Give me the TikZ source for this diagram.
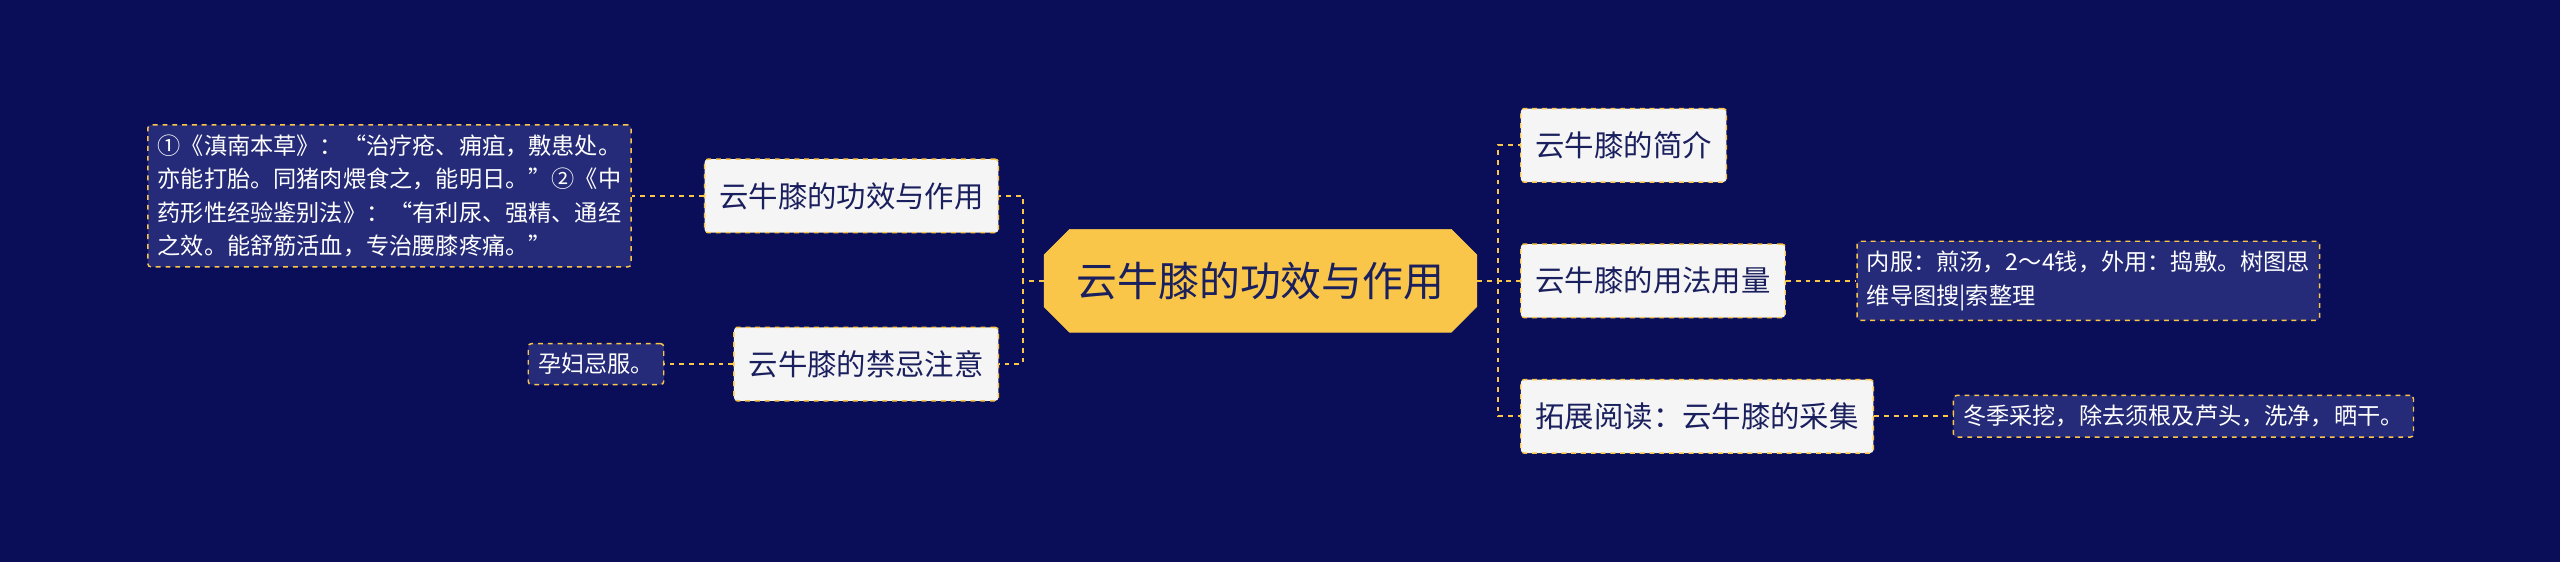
\documentclass[tikz,border=0pt]{standalone}
\usepackage{fontspec}
\setmainfont{Noto Sans CJK SC}
\usetikzlibrary{shapes.misc,shapes.geometric}
\definecolor{bg}{HTML}{0A0E58}
\definecolor{gold}{HTML}{F9C64A}
\definecolor{leaf}{HTML}{252B78}
\definecolor{boxc}{HTML}{F5F5F5}
\definecolor{ink}{HTML}{1A1F5E}
\tikzset{
 conn/.style={draw=gold,dashed,line width=1.2pt},
 branch/.style={draw=gold,dashed,line width=0.9pt,fill=boxc,rounded corners=2pt,text=ink,font=\fontsize{18}{22}\selectfont,minimum height=45pt,inner xsep=9pt},
 leafbox/.style={draw=gold,dashed,line width=0.9pt,fill=leaf,rounded corners=2pt,text=white,font=\fontsize{14.2}{20.5}\selectfont,align=left,inner xsep=6pt,inner ysep=6pt},
 hub/.style={chamfered rectangle,chamfered rectangle xsep=12pt,chamfered rectangle corners={north west,south west,north east,south east},fill=gold,draw=gold,text=ink,font=\fontsize{25}{30}\selectfont,minimum width=265pt,minimum height=63pt,inner xsep=2pt}
}
\begin{document}
\begin{tikzpicture}[x=1pt,y=-1pt]
\fill[bg] (0,0) rectangle (1568,344);
\useasboundingbox (0,0) rectangle (1568,344);
\node[hub] (c) at (772,172) {云牛膝的功效与作用};
\node[branch,anchor=west] (r1) at (931,89) {云牛膝的简介};
\node[branch,anchor=west] (r2) at (931,172) {云牛膝的用法用量};
\node[branch,anchor=west] (r3) at (931,255) {拓展阅读：云牛膝的采集};
\node[leafbox,anchor=west] (l2) at (1137,172) {内服：煎汤，2～4钱，外用：捣敷。树图思\\维导图搜|索整理};
\node[leafbox,anchor=west] (l3) at (1196,255) {冬季采挖，除去须根及芦头，洗净，晒干。};
\node[branch,anchor=east] (b1) at (612,120) {云牛膝的功效与作用};
\node[branch,anchor=east] (b2) at (612,223) {云牛膝的禁忌注意};
\node[leafbox,anchor=east] (k1) at (387,120) {①《滇南本草》：“治疗疮、痈疽，敷患处。\\亦能打胎。同猪肉煨食之，能明日。”②《中\\药形性经验鉴别法》：“有利尿、强精、通经\\之效。能舒筋活血，专治腰膝疼痛。”};
\node[leafbox,anchor=east] (k2) at (407,223) {孕妇忌服。};
\draw[conn] (c.east) -- ++(13,0) |- (r1.west);
\draw[conn] (c.east) -- (r2.west);
\draw[conn] (c.east) -- ++(13,0) |- (r3.west);
\draw[conn] (c.west) -- ++(-13,0) |- (b1.east);
\draw[conn] (c.west) -- ++(-13,0) |- (b2.east);
\draw[conn] (r2.east) -- (l2.west);
\draw[conn] (r3.east) -- (l3.west);
\draw[conn] (b1.west) -- (k1.east);
\draw[conn] (b2.west) -- (k2.east);
\end{tikzpicture}
\end{document}
